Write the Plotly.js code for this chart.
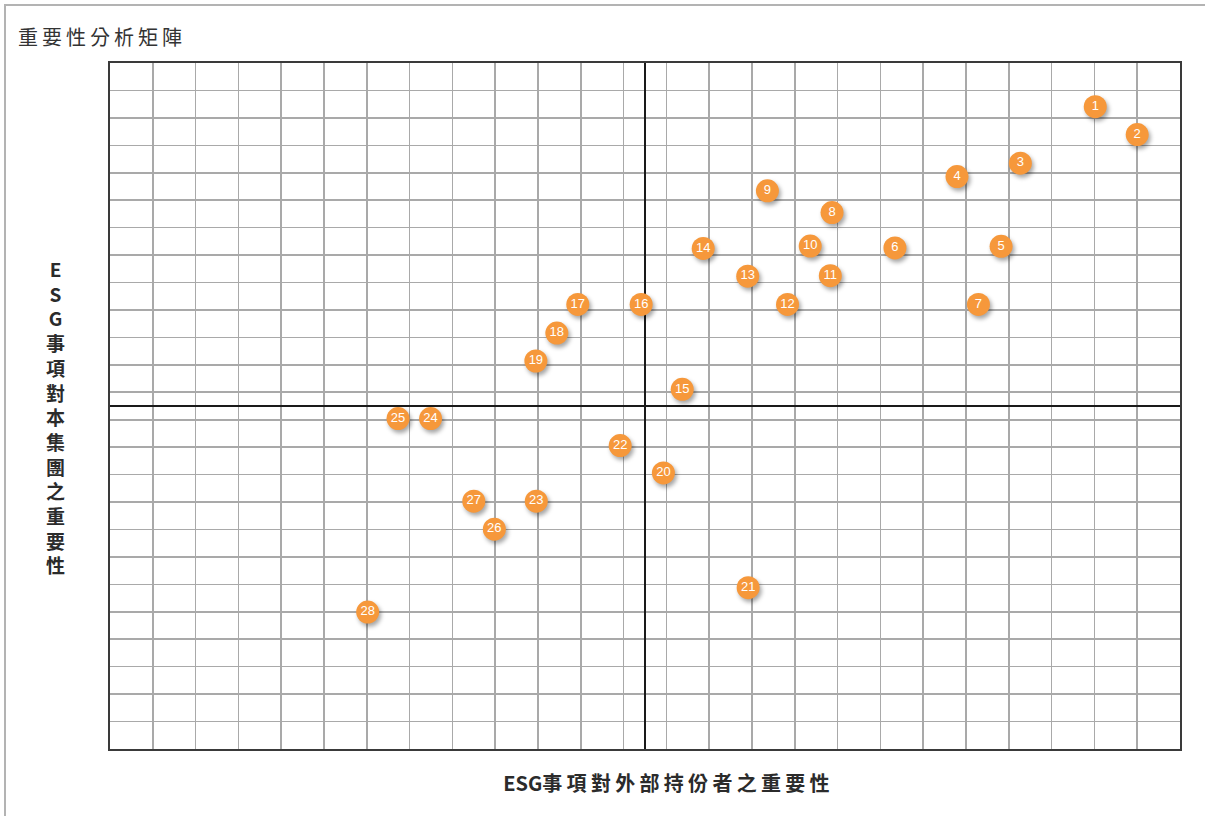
<!DOCTYPE html>
<html>
<head>
<meta charset="utf-8">
<script src="https://cdn.plot.ly/plotly-3.0.1.min.js"></script>
<style>
  html, body { margin: 0; padding: 0; background: #fff; overflow: hidden; }
  #wrap { position: relative; width: 1205px; height: 816px; }
  #frame { position: absolute; left: 4px; top: 4px; width: 1400px; height: 1000px;
           border: 2px solid #b3b3b3; pointer-events: none; }
  #chart { position: absolute; left: 0; top: 0; width: 1205px; height: 816px; }
  .scatterlayer .trace .points path { filter: drop-shadow(2px 3px 2px rgba(0,0,0,0.35)); }
  .gtitle { letter-spacing: 4px; }
  .annotation[data-index="1"] text { letter-spacing: 4.3px; }
</style>
</head>
<body>
<div id="wrap">
  <div id="chart"></div>
  <div id="frame"></div>
</div>
<script>
// Issue numbers
const labels = ["1","2","3","4","5","6","7","8","9","10","11","12","13","14",
                "15","16","17","18","19","20","21","22","23","24","25","26","27","28"];
// Importance to external stakeholders (horizontal)
const externalImportance = [10.52, 11.50, 8.77, 7.29, 8.32, 5.84, 7.79, 4.37, 2.86, 3.86,
                            4.33, 3.33, 2.40, 1.36, 0.87, -0.09, -1.57, -2.06, -2.55, 0.43,
                            2.41, -0.58, -2.54, -5.01, -5.77, -3.52, -4.00, -6.48];
// Importance to the Group (vertical)
const groupImportance = [10.91, 9.89, 8.85, 8.36, 5.82, 5.76, 3.70, 7.05, 7.84, 5.83,
                         4.75, 3.70, 4.73, 5.74, 0.61, 3.70, 3.70, 2.66, 1.64, -2.44,
                         -6.62, -1.44, -3.47, -0.46, -0.46, -4.49, -3.47, -7.51];

const chartTitle = "重要性分析矩陣";
const xTitleLatin = "ESG";
const xTitleCjk = "事項對外部持份者之重要性";
const yTitle = "ESG事項對本集團之重要性";

const cjk = '"Noto Sans CJK TC", "Noto Sans CJK SC", sans-serif';

const trace = {
  type: 'scatter',
  mode: 'markers+text',
  x: externalImportance,
  y: groupImportance,
  text: labels,
  textposition: 'middle center',
  textfont: { family: '"Liberation Sans", Arial, sans-serif', size: 13, color: '#ffffff' },
  marker: { size: 23, color: '#F6983B', line: { width: 0 } },
  hoverinfo: 'skip',
  cliponaxis: false
};

const axisCommon = {
  range: [-12.5, 12.5],
  tick0: 0.5,
  dtick: 1,
  showticklabels: false,
  ticks: '',
  showgrid: true,
  gridcolor: '#a9a9a9',
  gridwidth: 1.6,
  zeroline: true,
  zerolinecolor: '#1a1a1a',
  zerolinewidth: 2.2,
  showline: true,
  mirror: true,
  linecolor: '#3a3a3a',
  linewidth: 1.6,
  fixedrange: true
};

const layout = {
  width: 1205,
  height: 816,
  margin: { l: 110, r: 25, t: 63, b: 67, pad: 0 },
  paper_bgcolor: 'rgba(0,0,0,0)',
  plot_bgcolor: '#ffffff',
  showlegend: false,
  title: {
    text: chartTitle,
    xref: 'container', yref: 'container',
    x: 18 / 1205, xanchor: 'left',
    y: 1 - 38 / 816, yanchor: 'middle',
    font: { family: cjk, size: 20, color: '#333333' }
  },
  xaxis: Object.assign({}, axisCommon),
  yaxis: Object.assign({}, axisCommon),
  annotations: [
    {
      text: yTitle.split('').join('<br>'),
      xref: 'paper', yref: 'paper',
      x: -0.0514, y: 0.4847,
      xanchor: 'center', yanchor: 'middle',
      showarrow: false,
      align: 'center',
      font: { family: cjk, size: 19, color: '#2b2b2b', weight: 'bold' }
    },
    {
      text: '<span style="letter-spacing:0px">' + xTitleLatin + '</span>' + xTitleCjk,
      xref: 'paper', yref: 'paper',
      x: 0.5224, y: -0.049,
      xanchor: 'center', yanchor: 'middle',
      showarrow: false,
      font: { family: cjk, size: 20, color: '#2b2b2b', weight: 'bold' }
    }
  ]
};

Plotly.newPlot('chart', [trace], layout, { staticPlot: true, displayModeBar: false });
</script>
</body>
</html>
